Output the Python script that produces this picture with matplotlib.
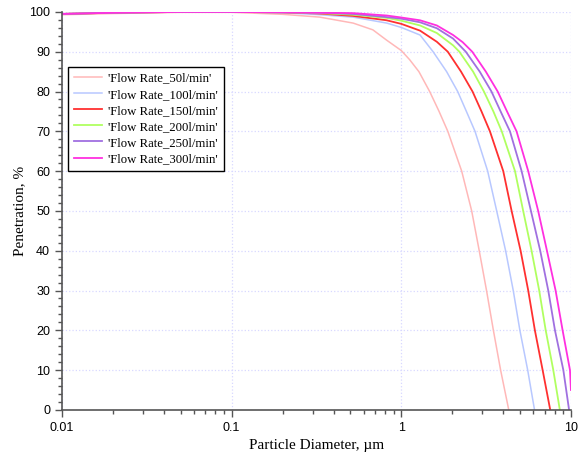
import matplotlib
matplotlib.use("Agg")
import matplotlib.pyplot as plt
from matplotlib.ticker import MultipleLocator, LogLocator, NullFormatter, FixedLocator

# particle diameter (um) and penetration (%) for each flow rate
d_50 = [0.01, 0.02, 0.05, 0.1, 0.2, 0.33, 0.52, 0.68, 0.82, 1.0, 1.12, 1.27, 1.47, 1.67, 1.88, 2.27, 2.60, 2.88, 3.18, 3.49, 3.85, 4.3]
p_50 = [99.3, 99.6, 99.9, 99.9, 99.4, 98.7, 97.2, 95.5, 92.9, 90.3, 88.0, 85, 80, 75, 70, 60, 50, 40, 30, 20, 10, 0]

d_100 = [0.01, 0.02, 0.05, 0.1, 0.2, 0.33, 0.52, 0.82, 1.0, 1.29, 1.54, 1.85, 2.15, 2.42, 2.72, 3.23, 3.65, 4.12, 4.57, 5.00, 5.56, 6.1]
p_100 = [99.5, 99.8, 100, 100, 99.8, 99.3, 98.7, 97.2, 96.1, 94.2, 90, 85, 80, 75, 70, 60, 50, 40, 30, 20, 10, 0]

d_150 = [0.01, 0.02, 0.05, 0.1, 0.2, 0.33, 0.52, 0.82, 1.0, 1.29, 1.62, 1.88, 2.25, 2.63, 2.97, 3.33, 3.99, 4.47, 5.05, 5.60, 6.13, 6.81, 7.55]
p_150 = [99.5, 99.8, 100, 100, 99.9, 99.6, 99.0, 97.9, 97.0, 95.3, 92.5, 90, 85, 80, 75, 70, 60, 50, 40, 30, 20, 10, 0]

d_200 = [0.01, 0.02, 0.05, 0.1, 0.2, 0.33, 0.52, 0.82, 1.0, 1.29, 1.62, 2.02, 2.2, 2.65, 3.07, 3.49, 3.91, 4.68, 5.23, 5.86, 6.50, 7.10, 7.87, 8.6]
p_200 = [99.5, 99.8, 100, 100, 99.9, 99.7, 99.3, 98.5, 97.8, 96.6, 94.7, 91.6, 90, 85, 80, 75, 70, 60, 50, 40, 30, 20, 10, 0]

d_250 = [0.01, 0.02, 0.05, 0.1, 0.2, 0.33, 0.52, 0.82, 1.0, 1.29, 1.62, 2.02, 2.4, 2.9, 3.4, 3.85, 4.37, 5.12, 5.81, 6.59, 7.35, 8.05, 9.02, 9.75]
p_250 = [99.5, 99.8, 100, 100, 99.9, 99.8, 99.5, 98.7, 98.3, 97.4, 95.9, 93.3, 90, 85, 80, 75, 70, 60, 50, 40, 30, 20, 10, 0]

d_300 = [0.01, 0.02, 0.05, 0.1, 0.2, 0.33, 0.52, 0.82, 1.0, 1.29, 1.62, 2.02, 2.3, 2.62, 3.15, 3.7, 4.2, 4.78, 5.60, 6.41, 7.22, 8.12, 8.93, 9.87, 10.0]
p_300 = [99.5, 99.8, 100, 100, 99.9, 99.8, 99.7, 99.1, 98.6, 97.9, 96.6, 94.2, 92.4, 90, 85, 80, 75, 70, 60, 50, 40, 30, 20, 10, 5]

labels = ["'Flow Rate_50l/min'", "'Flow Rate_100l/min'", "'Flow Rate_150l/min'",
          "'Flow Rate_200l/min'", "'Flow Rate_250l/min'", "'Flow Rate_300l/min'"]
colors = ["#ffb8b8", "#b8c8ff", "#ff3030", "#b0ff60", "#a070e0", "#ff30e0"]
widths = [1.1, 1.1, 1.3, 1.3, 1.3, 1.3]

xs = [d_50, d_100, d_150, d_200, d_250, d_300]
ys = [p_50, p_100, p_150, p_200, p_250, p_300]

fig = plt.figure(figsize=(5.82, 4.59), dpi=100)
ax = fig.add_axes([0.1065, 0.107, 0.8745, 0.867])

for x, y, c, w, lab in zip(xs, ys, colors, widths, labels):
    ax.plot(x, y, color=c, lw=w, label=lab)

ax.set_xscale('log')
ax.set_xlim(0.01, 10)
ax.set_ylim(0, 100)

ax.yaxis.set_major_locator(MultipleLocator(10))
ax.yaxis.set_minor_locator(MultipleLocator(2))
ax.xaxis.set_major_locator(FixedLocator([0.01, 0.1, 1, 10]))
ax.xaxis.set_minor_locator(LogLocator(base=10, subs=range(2, 10)))
ax.xaxis.set_minor_formatter(NullFormatter())
ax.set_xticklabels(['0.01', '0.1', '1', '10'])

ax.grid(True, which='major', color='#d8d8ff', linestyle=':', lw=0.9)
for s in ['top', 'right']:
    ax.spines[s].set_visible(False)
for s in ['left', 'bottom']:
    ax.spines[s].set_color('#555555')
    ax.spines[s].set_linewidth(1.2)

ax.tick_params(which='major', direction='out', length=5, width=1, color='#555555',
               labelsize=9, labelfontfamily='Liberation Sans')
ax.tick_params(which='minor', direction='out', length=3, width=1, color='#555555')

ax.set_xlabel('Particle Diameter, µm', family='Liberation Serif', fontsize=11, labelpad=4)
ax.set_ylabel('Penetration, %', family='Liberation Serif', fontsize=11, labelpad=2)

leg = ax.legend(loc='upper left', bbox_to_anchor=(0.012, 0.862), borderaxespad=0,
                prop={'family': 'Liberation Serif', 'size': 9.2}, fancybox=False,
                framealpha=1, edgecolor='black', labelspacing=0.32, handlelength=2.2,
                borderpad=0.45, handletextpad=0.5)
leg.get_frame().set_linewidth(1.0)

fig.savefig('out.png', dpi=100)
